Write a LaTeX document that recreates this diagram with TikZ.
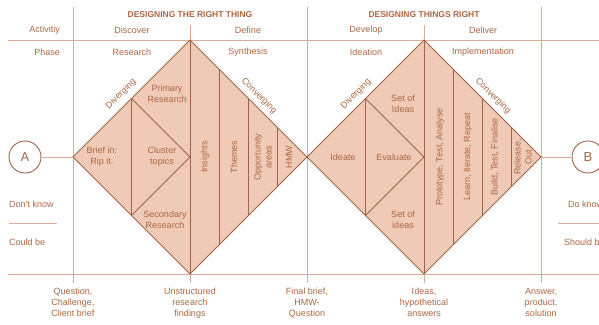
\documentclass[tikz,border=0pt]{standalone}
\usepackage{fontspec}
\setmainfont{Liberation Sans}
\usetikzlibrary{calc}
\definecolor{peach}{HTML}{EFCAB6}
\definecolor{rust}{HTML}{A0634A}
\definecolor{gridc}{HTML}{D9AD96}
\definecolor{label}{HTML}{AC6642}
\begin{document}
\begin{tikzpicture}[x=1pt, y=-1pt,
    txt/.style={text=label, font=\fontsize{9}{11}\selectfont, align=center, inner sep=0pt},
    head/.style={text=label, font=\fontsize{8.5}{10}\selectfont\bfseries, inner sep=0pt},
    side/.style={txt, anchor=west},
    gridline/.style={draw=gridc, line width=0.8pt},
    edgeline/.style={draw=rust, line width=1pt},
    endpoint/.style={circle, draw=rust, line width=0.9pt, minimum size=32pt,
                     inner sep=0pt, text=rust, font=\fontsize{13}{13}\selectfont}]
	\useasboundingbox (0,0) rectangle (599,324);

	% the two diamonds
	\coordinate (d1w) at (73,157);  \coordinate (d1n) at (190,40);
	\coordinate (d1e) at (307,157); \coordinate (d1s) at (190,274);
	\coordinate (d1c) at (190,157);
	\coordinate (d2w) at (307,157); \coordinate (d2n) at (424,40);
	\coordinate (d2e) at (541,157); \coordinate (d2s) at (424,274);
	\coordinate (d2c) at (424,157);

	% grid
	\draw[gridline] (8,40) -- (599,40);
	\draw[gridline] (8,274) -- (599,274);
	\foreach \x in {73,307,541}
		\draw[gridline] (\x,7) -- (\x,283);
	\foreach \x in {190,424} {
		\draw[gridline] (\x,25) -- (\x,40);
		\draw[gridline] (\x,274) -- (\x,283);
	}
	\draw[gridline] (9,223) -- (57,223);
	\draw[gridline] (558,223) -- (599,223);

	\foreach \d in {d1,d2} {
		\filldraw[fill=peach, edgeline] (\d w) -- (\d n) -- (\d e) -- (\d s) -- cycle;
		\draw[edgeline] (\d n) -- (\d s);
		\draw[edgeline] ($(\d w)!0.5!(\d n)$) -- ($(\d w)!0.5!(\d s)$);
		\draw[edgeline] ($(\d w)!0.5!(\d n)$) -- (\d c) -- ($(\d w)!0.5!(\d s)$);
		\foreach \f in {0.25,0.5,0.75}
			\draw[edgeline] ($(\d n)!\f!(\d e)$) -- ($(\d s)!\f!(\d e)$);
	}

	% start and end
	\node[endpoint] (A) at (25,157) {A};
	\node[endpoint] (B) at (588,157) {B};
	\draw[gridline] (A) -- (d1w);
	\draw[gridline] (d2e) -- (B);

	% headings
	\node[head] (title1) at (190,15) {DESIGNING THE RIGHT THING};
	\node[head] (title2) at (424,15) {DESIGNING THINGS RIGHT};
	\node[txt, anchor=east] (activity) at (60,30) {Activitiy};
	\node[txt, anchor=east] (phase) at (60,52) {Phase};
	\node[txt] (discover) at (132,30) {Discover};
	\node[txt] (define) at (248,30) {Define};
	\node[txt] (develop) at (366,30) {Develop};
	\node[txt] (deliver) at (483,30) {Deliver};
	\node[txt] (research) at (132,52) {Research};
	\node[txt] (synthesis) at (248,52) {Synthesis};
	\node[txt] (ideation) at (366,52) {Ideation};
	\node[txt] (implement) at (483,52) {Implementation};

	% sides
	\node[side] (dontknow) at (9,204) {Don't know};
	\node[side] (couldbe) at (9,242) {Could be};
	\node[side] (doknow) at (568,204) {Do know};
	\node[side] (shouldbe) at (564,242) {Should be};

	% first diamond
	\node[txt, rotate=45] (div1) at (121,94) {Diverging};
	\node[txt, rotate=-45] (conv1) at (259,96) {Converging};
	\node[txt] (brief) at (102,157) {Brief in:\\Rip it.};
	\node[txt] (cluster) at (162,157) {Cluster\\topics};
	\node[txt] (primary) at (167,94) {Primary\\Research};
	\node[txt] (secondary) at (165,220) {Secondary\\Research};
	\node[txt, rotate=90] (insights) at (205,157) {Insights};
	\node[txt, rotate=90] (themes) at (234,157) {Themes};
	\node[txt, rotate=90] (opport) at (263,157) {Opportunity\\areas};
	\node[txt, rotate=90] (hmw) at (289,157) {HMW};

	% second diamond
	\node[txt, rotate=45] (div2) at (356,94) {Diverging};
	\node[txt, rotate=-45] (conv2) at (493,96) {Converging};
	\node[txt] (ideate) at (343,157) {Ideate};
	\node[txt] (evaluate) at (394,157) {Evaluate};
	\node[txt] (setup) at (403,104) {Set of\\Ideas};
	\node[txt] (setdown) at (403,220) {Set of\\ideas};
	\node[txt, rotate=90] (proto) at (440,157) {Prototype, Test, Analyse};
	\node[txt, rotate=90] (learn) at (468,157) {Learn, Iterate, Repeat};
	\node[txt, rotate=90] (build) at (495,157) {Build, Test, Finalise};
	\node[txt, rotate=90] (release) at (523,157) {Release,\\Out};

	% outcomes
	\node[txt, anchor=north] (question) at (73,288) {Question,\\Challenge,\\Client brief};
	\node[txt, anchor=north] (unstruct) at (190,288) {Unstructured\\research\\findings};
	\node[txt, anchor=north] (final) at (307,288) {Final brief,\\HMW-\\Question};
	\node[txt, anchor=north] (ideas) at (424,288) {Ideas,\\hypothetical\\answers};
	\node[txt, anchor=north] (answer) at (541,288) {Answer,\\product,\\solution};
\end{tikzpicture}
\end{document}
